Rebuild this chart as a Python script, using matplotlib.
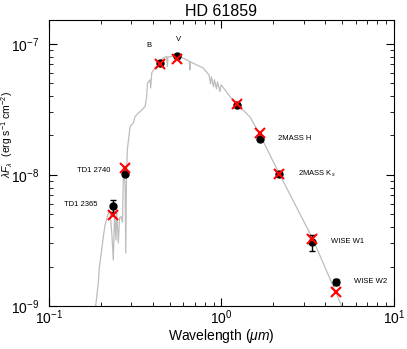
import matplotlib
matplotlib.use("Agg")
import matplotlib.pyplot as plt
import numpy as np

plt.rcParams['font.family'] = ['Liberation Sans', 'DejaVu Sans']
plt.rcParams['mathtext.fontset'] = 'custom'
plt.rcParams['mathtext.rm'] = 'Liberation Sans'
plt.rcParams['mathtext.it'] = 'Liberation Sans:italic'
plt.rcParams['mathtext.sf'] = 'Liberation Sans'

#--- Photometry (wavelength in micron, lambda*F_lambda in erg/s/cm2)
bands = ["TD1 2365", "TD1 2740", "B", "V", "2MASS J", "2MASS H", "2MASS K$_s$", "WISE W1", "WISE W2"]
wave = [0.2365, 0.274, 0.44, 0.55, 1.235, 1.662, 2.159, 3.353, 4.603]
flux_obs = [5.8e-9, 1.02e-8, 7.12e-8, 8.1e-8, 3.40e-8, 1.87e-8, 1.01e-8, 3.06e-9, 1.52e-9]
flux_err = [0.6e-9, 0.3e-9, 1.5e-9, 1.5e-9, 0.07e-8, 0.04e-8, 0.02e-8, 0.42e-9, 0.08e-9]
flux_model = [4.95e-9, 1.12e-8, 7.0e-8, 7.64e-8, 3.45e-8, 2.08e-8, 1.01e-8, 3.25e-9, 1.29e-9]

#--- Model spectrum
sed_wave = [0.1824, 0.1932, 0.1960, 0.1990, 0.2065, 0.2114, 0.2208, 0.2259, 0.2316, 0.2360,
            0.2399, 0.2445, 0.2467, 0.2523, 0.2564, 0.2613, 0.2667, 0.2704, 0.2761, 0.2786,
            0.2812, 0.2844, 0.2953, 0.3084, 0.3155, 0.3298, 0.3447, 0.3604, 0.3684, 0.3723,
            0.3850, 0.3888, 0.3940, 0.4116, 0.4285, 0.4581, 0.4810, 0.4853, 0.4898, 0.5144,
            0.5497, 0.6008, 0.6523, 0.6567, 0.6610, 0.7844, 0.8463, 0.8634, 0.8750, 0.8988,
            0.9108, 0.9354, 0.9480, 0.9800, 0.9933, 1.048, 1.120, 1.235, 1.463, 1.672,
            2.163, 3.360, 5.100]
sed_flux = [7.8e-10, 1.50e-9, 2.0e-9, 2.3e-9, 3.38e-9, 4.15e-9, 5.13e-9, 5.25e-9, 3.48e-9, 2.24e-9,
            4.95e-9, 3.19e-9, 5.41e-9, 3.03e-9, 4.70e-9, 4.81e-9, 4.37e-9, 1.13e-8, 8.4e-9, 2.54e-9,
            9.2e-9, 1.55e-8, 2.34e-8, 2.49e-8, 2.79e-8, 2.96e-8, 3.13e-8, 3.32e-8, 3.96e-8, 5.01e-8,
            5.31e-8, 4.61e-8, 6.01e-8, 6.56e-8, 6.92e-8, 7.82e-8, 8.0e-8, 6.71e-8, 7.96e-8, 8.0e-8,
            8.17e-8, 7.78e-8, 7.35e-8, 6.33e-8, 7.29e-8, 6.53e-8, 5.79e-8, 4.95e-8, 5.60e-8, 4.70e-8,
            5.31e-8, 4.53e-8, 5.13e-8, 4.31e-8, 4.86e-8, 4.46e-8, 3.96e-8, 3.45e-8, 2.77e-8, 2.02e-8,
            1.02e-8, 3.31e-9, 9.3e-10]

#--- Band labels: (text, wavelength, flux, alignment)
labels = [("B", 0.380, 9.66e-8, "center"),
          ("V", 0.567, 1.07e-7, "center"),
          ("TD1 2740", 0.2258, 1.09e-8, "right"),
          ("TD1 2365", 0.1915, 5.97e-9, "right"),
          ("2MASS H", 2.126, 1.88e-8, "left"),
          ("2MASS K$_s$", 2.765, 1.01e-8, "left"),
          ("WISE W1", 4.30, 3.08e-9, "left"),
          ("WISE W2", 5.86, 1.53e-9, "left")]

fig = plt.figure(figsize=(4.07, 3.49), dpi=100)
ax = fig.add_axes([0.1204, 0.1232, 0.8476, 0.8195])

ax.plot(sed_wave, sed_flux, color="#bdbdbd", lw=0.9, zorder=1)
ax.errorbar(wave, flux_obs, yerr=flux_err, fmt="o", color="black", ms=5,
            elinewidth=1.0, capsize=2.5, capthick=1.0, zorder=2)
ax.plot(wave, flux_model, "x", color="red", ms=7, mew=1.5, zorder=3)

for txt, x, y, ha in labels:
    ax.text(x, y, txt, fontsize=5.5, ha=ha, va="center")

ax.set_xscale("log")
ax.set_yscale("log")
ax.set_xlim(0.1, 10)
ax.set_ylim(1e-9, 1.52e-7)
ax.tick_params(which="both", direction="in", top=True, right=True, labelsize=10)
ax.tick_params(which="major", length=6)
ax.tick_params(which="minor", length=3)
ax.tick_params(axis="x", which="major", pad=1.5)
ax.tick_params(axis="y", which="major", pad=7)

ax.set_xlabel(r"Wavelength ($\mu m$)", fontsize=10, labelpad=0)
ax.set_ylabel(r"$\lambda F_\lambda$  (erg s$^{-1}$ cm$^{-2}$)", fontsize=7.5)
ax.yaxis.set_label_coords(-0.098, 0.598)
ax.set_title("HD 61859", fontsize=11.5, pad=3)

fig.savefig("out.png", dpi=100)
plt.close()
